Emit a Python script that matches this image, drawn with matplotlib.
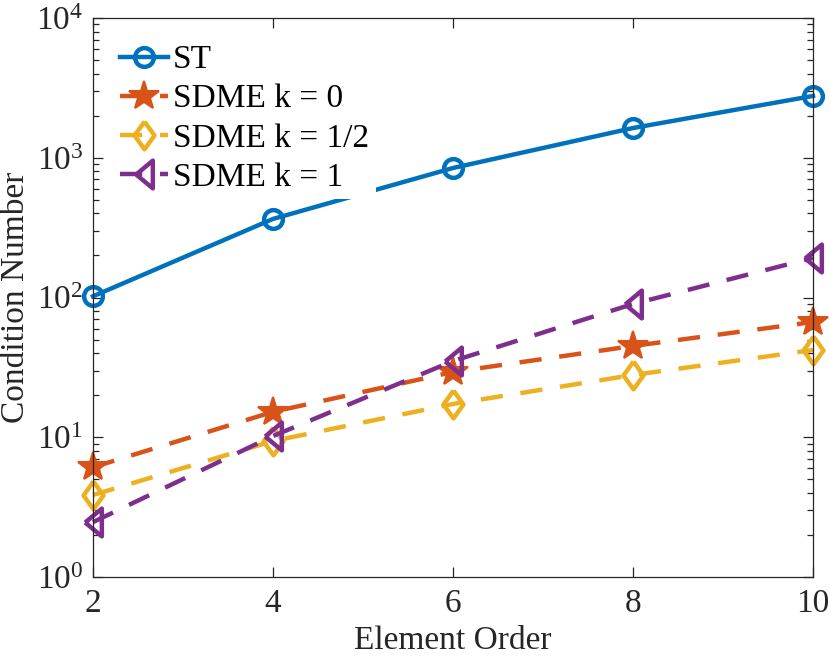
import matplotlib
matplotlib.use('Agg')
import matplotlib.pyplot as plt
from matplotlib.ticker import LogLocator, NullFormatter, LogFormatterMathtext

plt.rcParams['font.family'] = ['Liberation Serif', 'DejaVu Serif']
plt.rcParams['mathtext.fontset'] = 'custom'
plt.rcParams['mathtext.rm'] = 'Liberation Serif'
plt.rcParams['mathtext.it'] = 'Liberation Serif:italic'

# data
order = [2, 4, 6, 8, 10]
st = [102, 365, 845, 1633, 2770]
sdme_k0 = [6.1, 15.2, 29.3, 45.0, 66.8]
sdme_khalf = [3.86, 9.4, 17.3, 27.9, 42.1]
sdme_k1 = [2.47, 10.2, 35.1, 89.9, 192]
labels = ['ST', 'SDME k = 0', 'SDME k = 1/2', 'SDME k = 1']

colors = ['#0072BD', '#D95319', '#EDB120', '#7E2F8E']
ink = '#262626'

# matlab-like marker shapes
tri_left = [(-0.6, 0), (0.6, 1), (0.6, -1), (-0.6, 0)]
diamond = [(0, 1), (0.72, 0), (0, -1), (-0.72, 0), (0, 1)]

fig = plt.figure(figsize=(8.3, 6.58), dpi=100)
ax = fig.add_axes([0.112, 0.1231, 0.8675, 0.8495])

lw = 3.2
dash = (5.0, 4.0)
ax.plot(order, st, '-', color=colors[0], lw=lw, marker='o', ms=13.5,
        mew=3.2, mfc='none', label=labels[0], clip_on=False)
ax.plot(order, sdme_k0, color=colors[1], lw=lw, dashes=dash, marker='*',
        ms=22, mew=1.5, mfc=colors[1], label=labels[1], clip_on=False)
ax.plot(order, sdme_khalf, color=colors[2], lw=lw, dashes=dash, marker=diamond,
        ms=20, mew=3.2, mfc='none', label=labels[2], clip_on=False)
ax.plot(order, sdme_k1, color=colors[3], lw=lw, dashes=dash, marker=tri_left,
        ms=20, mew=3.2, mfc='none', label=labels[3], clip_on=False)

ax.set_yscale('log')
ax.set_xlim(2, 10)
ax.set_ylim(1, 1e4)
ax.set_xticks(order)
ax.yaxis.set_major_locator(LogLocator(base=10, numticks=10))
ax.yaxis.set_major_formatter(LogFormatterMathtext())
ax.yaxis.set_minor_locator(LogLocator(base=10, subs=range(2, 10), numticks=20))
ax.yaxis.set_minor_formatter(NullFormatter())

for s in ax.spines.values():
    s.set_color(ink)
    s.set_linewidth(0.9)
ax.tick_params(which='both', direction='in', top=True, right=True,
               colors=ink, labelcolor=ink, labelsize=24, width=0.9)
ax.tick_params(which='major', length=7)
ax.tick_params(which='minor', length=4)
ax.tick_params(axis='x', pad=8)
ax.tick_params(axis='y', pad=7)

ax.set_xlabel('Element Order', fontsize=24, color=ink, labelpad=5)
ax.set_ylabel('Condition Number', fontsize=24, color=ink, labelpad=4)

leg = ax.legend(loc='upper left', bbox_to_anchor=(0.0, 1.0),
                handlelength=1.45, handletextpad=0.15, labelspacing=0.26,
                borderaxespad=0.6, borderpad=0.2, frameon=True, fancybox=False,
                prop={'family': 'Liberation Serif', 'size': 24})
leg.get_frame().set_facecolor('white')
leg.get_frame().set_edgecolor('none')
leg.get_frame().set_alpha(1)
leg.set_zorder(5)
for t in leg.get_texts():
    t.set_color('black')

fig.savefig('out.png', dpi=100)
